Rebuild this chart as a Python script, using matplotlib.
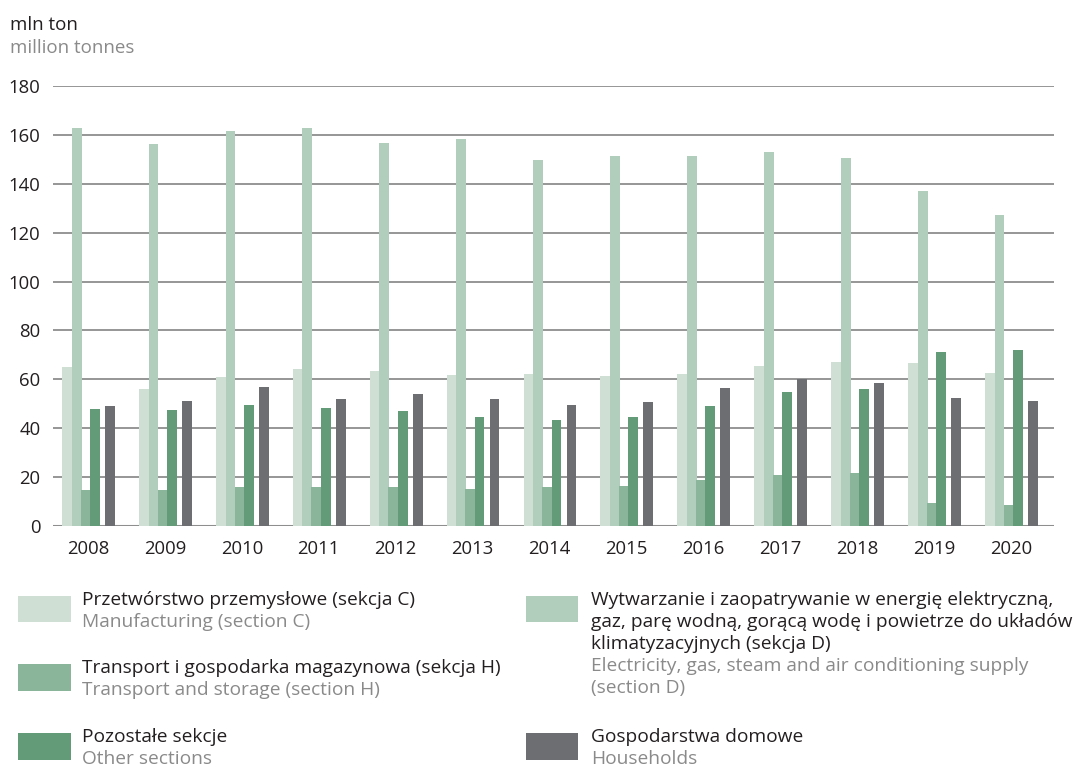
import numpy as np
import matplotlib.pyplot as plt
from matplotlib.patches import Rectangle

plt.rcParams['font.family'] = ['Open Sans', 'DejaVu Sans']

years = [str(y) for y in range(2008, 2021)]
manufacturing = [65.2, 56.0, 61.1, 64.4, 63.4, 61.8, 62.2, 61.4, 62.2, 65.5, 67.1, 66.7, 62.6]
energy = [162.8, 156.3, 161.6, 162.8, 156.7, 158.3, 149.7, 151.4, 151.4, 153.0, 150.5, 137.0, 127.2]
transport = [14.7, 14.7, 16.0, 16.0, 16.0, 15.1, 16.0, 16.4, 18.8, 20.8, 21.6, 9.4, 8.6]
other = [47.9, 47.5, 49.5, 48.3, 47.0, 44.6, 43.4, 44.6, 49.1, 54.8, 56.0, 71.2, 72.0]
households = [49.1, 51.1, 57.0, 52.0, 54.0, 52.0, 49.5, 50.7, 56.5, 60.1, 58.5, 52.4, 51.1]

colors = ['#d0dfd4', '#b1cdbb', '#8ab59b', '#639b79', '#6d6e71']
W, H = 1076, 767

fig = plt.figure(figsize=(W / 100, H / 100), dpi=100)
ax = fig.add_axes([53 / W, 1 - 526 / H, (1054 - 53) / W, 440 / H])

x = np.arange(len(years))
bw = 0.128
offsets = [-0.273, -0.148, -0.030, 0.091, 0.286]
series = [manufacturing, energy, transport, other, households]
for s, off, c in zip(series, offsets, colors):
    ax.bar(x + off, s, width=bw, color=c, linewidth=0, zorder=3)

ax.set_xlim(-0.455, 12.56)
ax.set_ylim(0, 180)
ax.set_yticks(range(0, 181, 20))
ax.set_xticks(x)
ax.set_xticklabels(years)
ax.grid(axis='y', color='#8e8e8e', linewidth=1.3, zorder=0)
ax.set_axisbelow(True)
for sp in ax.spines.values():
    sp.set_visible(False)
ax.axhline(0, color='#8e8e8e', linewidth=2.2, zorder=2)
ax.tick_params(length=0, labelsize=13.3, colors='#231f20')
ax.tick_params(axis='y', pad=9)
ax.tick_params(axis='x', pad=10)


def px(xp, yp):
    return xp / W, 1 - yp / H


dark = '#231f20'
grey = '#8a8a8a'
fig.text(*px(10, 30), 'mln ton', fontsize=13.5, color=dark, va='baseline')
fig.text(*px(10, 53), 'million tonnes', fontsize=13.5, color=grey, va='baseline')

# legend, drawn by hand
def patch(xp, yp, wp, hp, c):
    fig.add_artist(Rectangle((xp / W, 1 - (yp + hp) / H), wp / W, hp / H,
                             color=c, transform=fig.transFigure, linewidth=0))


def lines(xp, yp, pl, en):
    y = yp
    for t in pl:
        fig.text(*px(xp, y), t, fontsize=13.8, color=dark, va='baseline')
        y += 22
    for t in en:
        fig.text(*px(xp, y), t, fontsize=13.8, color=grey, va='baseline')
        y += 22


patch(18, 596, 53, 26, colors[0])
lines(82, 605, ['Przetwórstwo przemysłowe (sekcja C)'], ['Manufacturing (section C)'])
patch(18, 664, 53, 27, colors[2])
lines(82, 673, ['Transport i gospodarka magazynowa (sekcja H)'], ['Transport and storage (section H)'])
patch(18, 733, 53, 27, colors[3])
lines(82, 742, ['Pozostałe sekcje'], ['Other sections'])
patch(526, 596, 52, 26, colors[1])
lines(591, 605, ['Wytwarzanie i zaopatrywanie w energię elektryczną,',
                 'gaz, parę wodną, gorącą wodę i powietrze do układów',
                 'klimatyzacyjnych (sekcja D)'],
      ['Electricity, gas, steam and air conditioning supply', '(section D)'])
patch(526, 733, 52, 27, colors[4])
lines(591, 742, ['Gospodarstwa domowe'], ['Households'])

fig.savefig('out.png', dpi=100)
